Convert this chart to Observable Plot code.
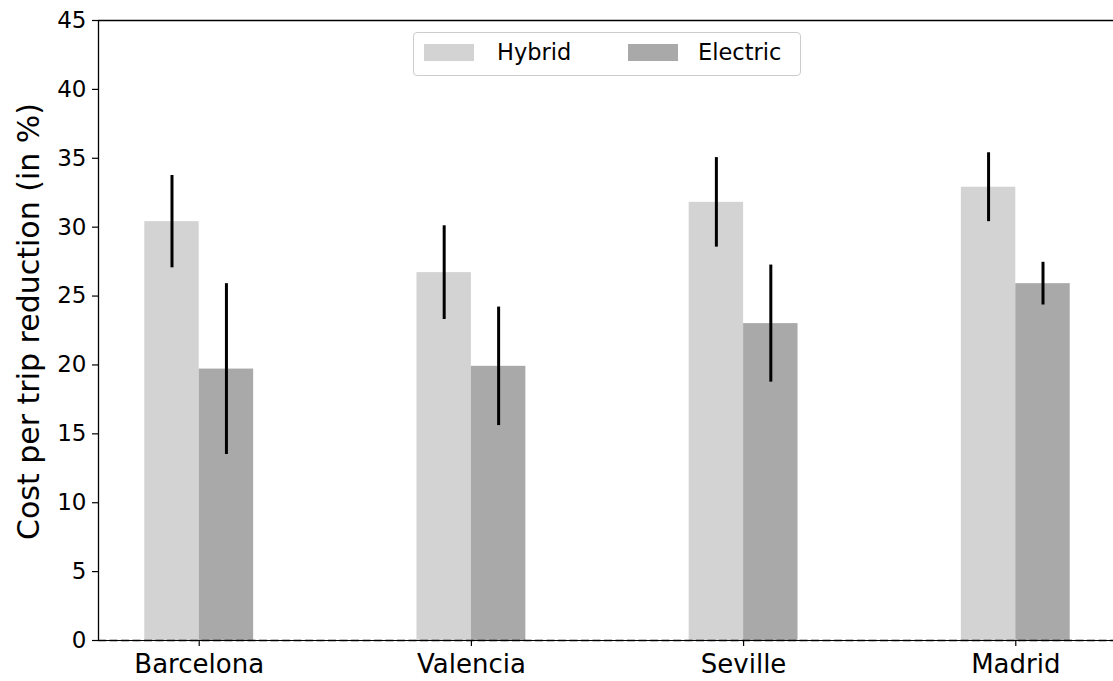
<!DOCTYPE html>
<html>
<head>
<meta charset="utf-8">
<script src="https://cdn.jsdelivr.net/npm/d3@7"></script>
<script src="https://cdn.jsdelivr.net/npm/@observablehq/plot@0.6"></script>
<style>
  html, body { margin: 0; padding: 0; background: #fff; }
  #wrap { position: relative; width: 1113px; height: 681px; overflow: hidden; font-family: "DejaVu Sans", sans-serif; }
  .legend { position: absolute; left: 413px; top: 32px; width: 386px; height: 42px;
            border: 1px solid #cccccc; border-radius: 4px; background: rgba(255,255,255,0.8); }
  .legend .sw { position: absolute; top: 11px; width: 50px; height: 17px; }
  .legend .lb { position: absolute; top: 5px; font-size: 22.5px; line-height: 28px; color: #000; }
</style>
</head>
<body>
<div id="wrap"></div>
<script>
// Cost per trip reduction by city, with error bars
const cities = ["Barcelona", "Valencia", "Seville", "Madrid"];
const hybrid = [30.4, 26.7, 31.8, 32.9];
const hybridErr = [3.35, 3.4, 3.25, 2.5];
const electric = [19.7, 19.9, 23.0, 25.9];
const electricErr = [6.2, 4.3, 4.25, 1.55];
const yTicks = [0, 5, 10, 15, 20, 25, 30, 35, 40, 45];

const series = [
  {name: "Hybrid", values: hybrid, errs: hybridErr, color: "#d3d3d3", offset: -0.1},
  {name: "Electric", values: electric, errs: electricErr, color: "#a9a9a9", offset: 0.1}
];
const barWidth = 0.2;

const rows = series.flatMap(s => cities.map((c, i) => ({
  city: c, i, series: s.name, value: s.values[i], err: s.errs[i], color: s.color, xc: i + s.offset
})));

const chart = Plot.plot({
  width: 1113,
  height: 681,
  marginLeft: 98,
  marginTop: 20,
  marginBottom: 41,
  marginRight: 0,
  style: {fontFamily: "DejaVu Sans, sans-serif", background: "transparent", overflow: "hidden"},
  x: {domain: [-0.37, 3.37], range: [98, 1116]},
  y: {domain: [0, 45], range: [640, 20]},
  marks: [
    Plot.rect(rows, {
      x1: d => d.xc - barWidth / 2, x2: d => d.xc + barWidth / 2,
      y1: 0, y2: "value", fill: d => d.color
    }),
    Plot.ruleX(rows, {
      x: "xc", y1: d => d.value - d.err, y2: d => d.value + d.err,
      stroke: "#000", strokeWidth: 3
    }),
    // frame spines
    Plot.ruleY([45], {stroke: "#000", strokeWidth: 1.3}),
    Plot.ruleX([-0.37], {stroke: "#000", strokeWidth: 1.3}),
    Plot.ruleY([0], {stroke: "#000", strokeWidth: 1.1}),
    Plot.ruleY([0], {stroke: "#000", strokeWidth: 1.6, strokeDasharray: "8,3.5"}),
    Plot.axisY({
      ticks: yTicks, tickSize: 6, tickPadding: 6, fontSize: 23,
      stroke: "#000", strokeWidth: 1.2, label: null
    }),
    Plot.axisX({
      ticks: [0, 1, 2, 3], tickFormat: i => cities[i], tickSize: 6, tickPadding: 8,
      fontSize: 26, stroke: "#000", strokeWidth: 1.2, label: null
    }),
    Plot.text(["Cost per trip reduction (in %)"], {
      frameAnchor: "left", textAnchor: "middle", dx: -69, dy: -9, rotate: -90, fontSize: 30, fill: "#000"
    })
  ]
});

const wrap = document.getElementById("wrap");
wrap.appendChild(chart);

// Legend drawn inside the plot area, at the top centre
const legend = document.createElement("div");
legend.className = "legend";
const items = [
  {s: series[0], sw: 10, lb: 83},
  {s: series[1], sw: 214, lb: 284}
];
for (const it of items) {
  const sw = document.createElement("div");
  sw.className = "sw";
  sw.style.left = it.sw + "px";
  sw.style.background = it.s.color;
  legend.appendChild(sw);
  const lb = document.createElement("div");
  lb.className = "lb";
  lb.style.left = it.lb + "px";
  lb.textContent = it.s.name;
  legend.appendChild(lb);
}
wrap.appendChild(legend);
</script>
</body>
</html>
